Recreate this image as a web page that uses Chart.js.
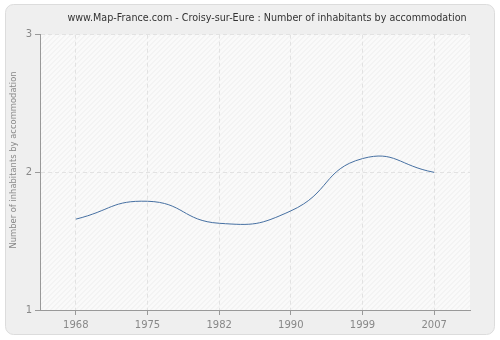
<!DOCTYPE html>
<html>
<head>
<meta charset="utf-8">
<script src="https://cdn.jsdelivr.net/npm/chart.js@4"></script>
<style>
  html, body { margin: 0; padding: 0; background: #fff; }
  #wrap { width: 500px; height: 340px; }
</style>
</head>
<body>
<div id="wrap"><canvas id="popChart" width="500" height="340"></canvas></div>
<script>
const years = ['1968', '1975', '1982', '1990', '1999', '2007'];
const inhabitants = [1.66, 1.79, 1.63, 1.72, 2.10, 2.00];
const yTicks = [1, 2, 3];
const chartTitle = 'www.Map-France.com - Croisy-sur-Eure : Number of inhabitants by accommodation';
const yTitle = 'Number of inhabitants by accommodation';

const FONT = '"DejaVu Sans", Verdana, sans-serif';

// panel, hatched plot background and titles
const backdrop = {
    id: 'backdrop',
    beforeDraw(chart) {
        const ctx = chart.ctx;
        const a = chart.chartArea;
        ctx.save();
        // outer rounded panel
        ctx.fillStyle = '#efefef';
        ctx.strokeStyle = '#dcdcdc';
        ctx.lineWidth = 1;
        ctx.beginPath();
        ctx.roundRect(5.5, 4.5, 489, 330, 8);
        ctx.fill();
        ctx.stroke();
        // plot area with diagonal hatch
        ctx.fillStyle = '#fafafa';
        ctx.fillRect(a.left, a.top, a.right - a.left, a.bottom - a.top);
        ctx.beginPath();
        ctx.rect(a.left, a.top, a.right - a.left, a.bottom - a.top);
        ctx.clip();
        ctx.strokeStyle = '#ededed';
        ctx.lineWidth = 1;
        const h = Math.round(a.bottom - a.top);
        for (let x = Math.round(a.left) - h; x < a.right + h; x += 5) {
            ctx.beginPath();
            ctx.moveTo(x + 0.5, Math.round(a.bottom));
            ctx.lineTo(x + h + 0.5, Math.round(a.bottom) - h);
            ctx.stroke();
        }
        ctx.restore();

        ctx.save();
        ctx.fillStyle = '#333';
        ctx.font = '9.6px ' + FONT;
        ctx.textAlign = 'center';
        ctx.textBaseline = 'middle';
        ctx.fillText(chartTitle, 267, 18);
        ctx.translate(14, 160);
        ctx.rotate(-Math.PI / 2);
        ctx.fillStyle = '#888';
        ctx.font = '8.4px ' + FONT;
        ctx.fillText(yTitle, 0, 0);
        ctx.restore();
    }
};

new Chart(document.getElementById('popChart').getContext('2d'), {
    type: 'line',
    data: {
        labels: years,
        datasets: [{
            data: inhabitants,
            borderColor: '#4670a2',
            borderWidth: 1,
            pointRadius: 0,
            tension: 0.5,
            fill: false
        }]
    },
    options: {
        responsive: false,
        animation: false,
        devicePixelRatio: 1,
        layout: { padding: { top: 34.7, right: 30, left: 0, bottom: 0 } },
        plugins: { legend: { display: false }, tooltip: { enabled: false } },
        scales: {
            x: {
                offset: true,
                grid: { color: '#e2e2e2', tickColor: '#999', tickLength: 5, tickBorderDash: [] },
                border: { color: '#999', dash: [4, 3] },
                ticks: { color: '#888', font: { family: FONT, size: 10 }, padding: 4, maxRotation: 0 },
                afterFit(scale) { scale.height = 30; }
            },
            y: {
                min: 1,
                max: 3,
                afterBuildTicks(scale) { scale.ticks = yTicks.map(v => ({ value: v })); },
                grid: { color: '#e2e2e2', tickColor: '#999', tickLength: 5, tickBorderDash: [] },
                border: { color: '#999', dash: [4, 3] },
                ticks: { color: '#888', font: { family: FONT, size: 10 }, padding: 3 },
                afterFit(scale) { scale.width = 40; }
            }
        }
    },
    plugins: [backdrop]
});
</script>
</body>
</html>
